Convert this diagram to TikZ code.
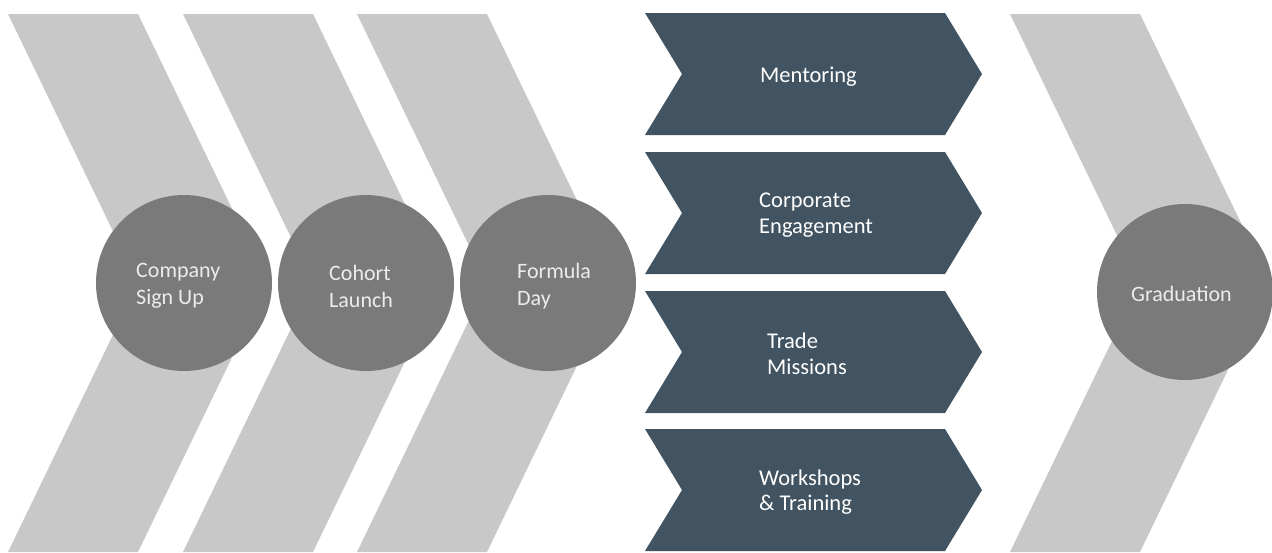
\documentclass[tikz,border=0pt]{standalone}
\usepackage{fontspec}
\setmainfont{Carlito}
\begin{document}
\begin{tikzpicture}[x=1pt,y=-1pt,
  graychev/.style={fill=chevgray,draw=none},
  darkchev/.style={fill=slate,draw=none},
  stage/.style={circle,fill=stagegray,draw=none,minimum size=176pt,inner sep=0pt},
  stagetext/.style={text=stagetext,font=\fontsize{22}{27}\selectfont,align=left,anchor=west,inner sep=0pt},
  activity/.style={text=white,font=\fontsize{22.5}{25.5}\selectfont,align=left,anchor=west,inner sep=0pt}]
\definecolor{chevgray}{HTML}{C8C8C8}
\definecolor{stagegray}{HTML}{7A7A7A}
\definecolor{stagetext}{HTML}{ECECEC}
\definecolor{slate}{HTML}{425462}
\useasboundingbox (0,0) rectangle (1272,552);
% large light chevrons behind the stage circles
\foreach \x in {8,183,357,1010}
  \path[graychev] (\x,14) -- ++(130,0) -- ++(130,269) -- ++(-130,269)
    -- ++(-130,0) -- ++(130,-269) -- cycle;
% activity chevrons
\foreach \y in {13,152,291,429}
  \path[darkchev] (645,\y) -- (945,\y) -- (982,\y+61) -- (945,\y+122)
    -- (645,\y+122) -- (682,\y+61) -- cycle;
% stages
\node[stage] (signup) at (184,283) {};
\node[stage] (launch) at (366,283) {};
\node[stage] (formula) at (548,283) {};
\node[stage] (grad) at (1185,292) {};
\node[stagetext] (tsignup) at (136,286) {Company\\Sign Up};
\node[stagetext] (tlaunch) at (329,286) {Cohort\\Launch};
\node[stagetext] (tformula) at (517,286) {Formula\\Day};
\node[stagetext] (tgrad) at (1131,294) {Graduation};
% activity labels
\node[activity] (mentor) at (760,77) {Mentoring};
\node[activity] (corp) at (759,215) {Corporate\\Engagement};
\node[activity] (trade) at (767,354) {Trade\\Missions};
\node[activity] (work) at (759,492) {Workshops\\\&~Training};
\end{tikzpicture}
\end{document}
